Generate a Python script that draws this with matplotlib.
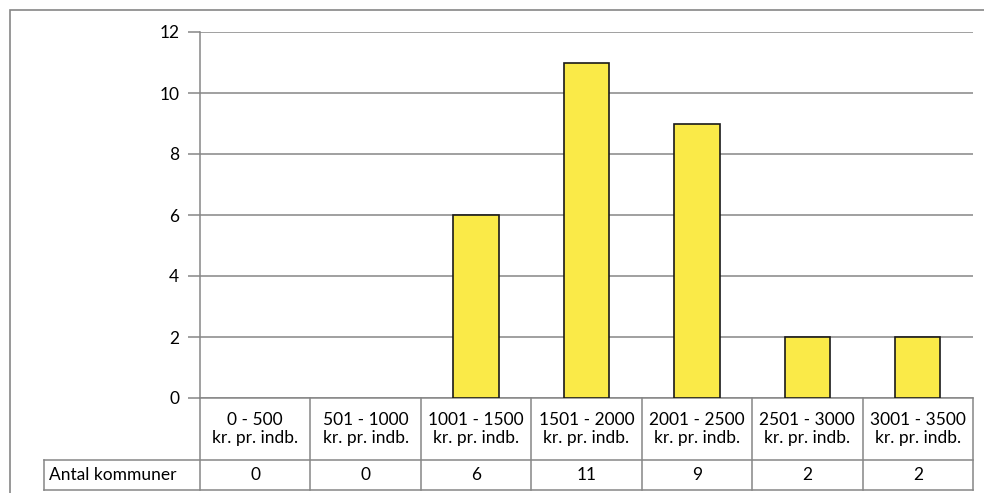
import numpy as np
import matplotlib.pyplot as plt
from matplotlib.patches import Rectangle

plt.rcParams['font.family'] = ['Lato', 'DejaVu Sans']

# intervals (kr. pr. indb.) and number of municipalities in each
intervals = ['0 - 500', '501 - 1000', '1001 - 1500', '1501 - 2000',
             '2001 - 2500', '2501 - 3000', '3001 - 3500']
unit = 'kr. pr. indb.'
antal = [0, 0, 6, 11, 9, 2, 2]
row_label = 'Antal kommuner'
yticks = [0, 2, 4, 6, 8, 10, 12]

W, H = 984, 493
grey = '#868686'
yellow = '#FAEA48'
fs = 12.5

fig = plt.figure(figsize=(W / 100, H / 100), dpi=100)

# plot area in pixels
x0, x1 = 200, 973
y_top, y_bot = 32, 398
ax = fig.add_axes([x0 / W, 1 - y_bot / H, (x1 - x0) / W, (y_bot - y_top) / H])

x = np.arange(len(antal))
lw = [1.2 if v > 0 else 0 for v in antal]
ax.bar(x, antal, width=0.41, color=yellow, edgecolor='#1a1a1a', linewidth=lw, zorder=3)

ax.set_xlim(-0.5, len(antal) - 0.5)
ax.set_ylim(0, 12)
ax.set_yticks(yticks)
ax.set_xticks([])
ax.grid(axis='y', color=grey, linewidth=1.1, zorder=0)
for s in ['top', 'right']:
    ax.spines[s].set_visible(False)
for s in ['left', 'bottom']:
    ax.spines[s].set_color(grey)
    ax.spines[s].set_linewidth(1.1)
ax.tick_params(axis='y', length=9, width=1.1, color=grey, labelsize=fs, pad=6)

# data table under the plot area, axes-fraction coordinates
ph = y_bot - y_top
pw = x1 - x0
def ay(py):
    return (y_bot - py) / ph
def ax_x(px):
    return (px - x0) / pw

hdr_bot = ay(460)
row_bot = ay(490)
left = ax_x(44)
tr = ax.transAxes
line_kw = dict(color=grey, linewidth=1.1, transform=tr, clip_on=False)

ncol = len(antal)
for i in range(ncol + 1):
    xa = i / ncol
    ax.plot([xa, xa], [0, row_bot], **line_kw)
ax.plot([left, left], [hdr_bot, row_bot], **line_kw)
ax.plot([left, 1], [hdr_bot, hdr_bot], **line_kw)
ax.plot([left, 1], [row_bot, row_bot], **line_kw)

for i in range(ncol):
    xc = (i + 0.5) / ncol
    ax.text(xc, hdr_bot / 2, intervals[i] + '\n' + unit, transform=tr,
            ha='center', va='center', fontsize=fs, linespacing=1.2)
    ax.text(xc, (hdr_bot + row_bot) / 2, str(antal[i]), transform=tr,
            ha='center', va='center', fontsize=fs)
ax.text(ax_x(49), (hdr_bot + row_bot) / 2, row_label, transform=tr,
        ha='left', va='center', fontsize=fs)

# chart border
fig.patches.append(Rectangle((9.5 / W, -0.1), 1.2, 1 - 10 / H + 0.1,
                             transform=fig.transFigure, fill=False,
                             edgecolor=grey, linewidth=1.2))

fig.savefig('out.png', dpi=100)
